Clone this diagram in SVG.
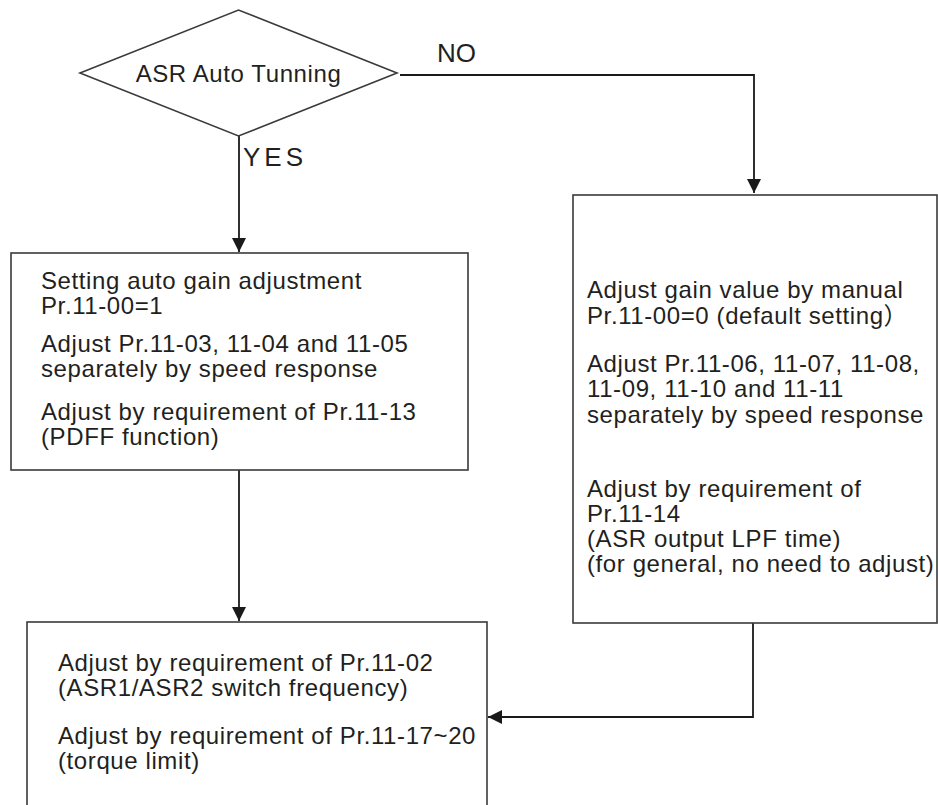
<svg xmlns="http://www.w3.org/2000/svg" width="938" height="805" viewBox="0 0 938 805">
<style>
.box{fill:#fff;stroke:#3a3a3a;stroke-width:1.6}
.ln{fill:none;stroke:#1a1a1a;stroke-width:1.8}
.t{font-family:"Liberation Sans",Arial,"Noto Sans CJK SC",sans-serif;font-size:24px;letter-spacing:0.6px;fill:#231f20}
.lbl{font-family:"Liberation Sans",Arial,sans-serif;font-size:26px;fill:#231f20}
</style>
<defs>
<marker id="arr" markerUnits="userSpaceOnUse" markerWidth="14" markerHeight="14" refX="14" refY="7" orient="auto">
<path d="M0,0 L14,7 L0,14 z" fill="#1a1a1a"/>
</marker>
</defs>
<rect width="938" height="805" fill="#fff"/>
<g id="connectors">
<polyline class="ln" points="400,75 754,75 754,193" marker-end="url(#arr)"/>
<line class="ln" x1="239" y1="136" x2="239" y2="252" marker-end="url(#arr)"/>
<line class="ln" x1="239" y1="470" x2="239" y2="621" marker-end="url(#arr)"/>
<polyline class="ln" points="753,623 753,717 488,717" marker-end="url(#arr)"/>
<text class="lbl" x="437" y="62">NO</text>
<text class="lbl" x="243" y="166" letter-spacing="4">YES</text>
</g>
<g id="decision">
<polygon class="box" points="80,73 238.5,10 397,73 238.5,136"/>
<text class="t" x="238.5" y="82" text-anchor="middle" letter-spacing="0.3">ASR Auto Tunning</text>
</g>
<g id="auto-box">
<rect class="box" x="11" y="253" width="457" height="217"/>
<text class="t" x="41" y="289">Setting auto gain adjustment</text>
<text class="t" x="41" y="314">Pr.11-00=1</text>
<text class="t" x="41" y="352">Adjust Pr.11-03, 11-04 and 11-05</text>
<text class="t" x="41" y="377">separately by speed response</text>
<text class="t" x="41" y="420">Adjust by requirement of Pr.11-13</text>
<text class="t" x="41" y="445">(PDFF function)</text>
</g>
<g id="manual-box">
<rect class="box" x="573" y="195" width="364" height="428"/>
<text class="t" x="587" y="298">Adjust gain value by manual</text>
<text class="t" x="587" y="324">Pr.11-00=0 (default setting）</text>
<text class="t" x="587" y="372">Adjust Pr.11-06, 11-07, 11-08,</text>
<text class="t" x="587" y="397">11-09, 11-10 and 11-11</text>
<text class="t" x="587" y="423">separately by speed response</text>
<text class="t" x="587" y="497">Adjust by requirement of</text>
<text class="t" x="587" y="522">Pr.11-14</text>
<text class="t" x="587" y="547">(ASR output LPF time)</text>
<text class="t" x="587" y="572">(for general, no need to adjust)</text>
</g>
<g id="final-box">
<rect class="box" x="27" y="622" width="460" height="200"/>
<text class="t" x="58" y="671">Adjust by requirement of Pr.11-02</text>
<text class="t" x="58" y="696">(ASR1/ASR2 switch frequency)</text>
<text class="t" x="58" y="744">Adjust by requirement of Pr.11-17~20</text>
<text class="t" x="58" y="769">(torque limit)</text>
</g>
</svg>
